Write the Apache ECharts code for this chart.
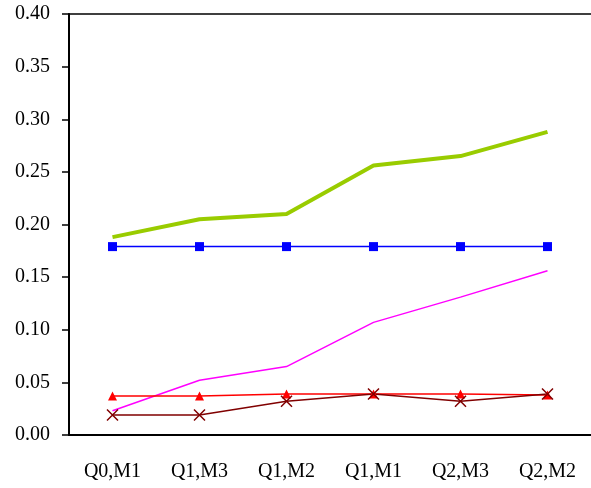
<!DOCTYPE html>
<html>
<head>
<meta charset="utf-8">
<script src="https://cdn.jsdelivr.net/npm/echarts@6/dist/echarts.min.js"></script>
<style>
html,body{margin:0;padding:0;background:#fff;}
#chart{width:591px;height:488px;}
</style>
</head>
<body>
<div id="chart"></div>
<script>
var categories = ['Q0,M1', 'Q1,M3', 'Q1,M2', 'Q1,M1', 'Q2,M3', 'Q2,M2'];
var greenVals = [0.188, 0.205, 0.210, 0.256, 0.265, 0.288];
var blueVals = [0.179, 0.179, 0.179, 0.179, 0.179, 0.179];
var magentaVals = [0.023, 0.052, 0.065, 0.107, 0.131, 0.156];
var redVals = [0.037, 0.037, 0.039, 0.039, 0.039, 0.038];
var darkRedVals = [0.019, 0.019, 0.032, 0.039, 0.032, 0.039];

var font = '"Liberation Serif", "Times New Roman", serif';
var myChart = echarts.init(document.getElementById('chart'));

option = {
	animation: false,
	backgroundColor: '#fff',
	grid: {
		left: 69,
		top: 14,
		right: -3,
		bottom: 53
	},
	xAxis: [
		{
			type: 'category',
			data: categories,
			boundaryGap: true,
			axisLine: { lineStyle: { color: '#000', width: 2 } },
			axisTick: { length: 7, lineStyle: { color: '#555', width: 1.5 } },
			axisLabel: { margin: 27, fontSize: 20, fontFamily: font, color: '#000' }
		},
		{
			// top frame line only
			type: 'category',
			data: categories,
			position: 'top',
			axisLine: { lineStyle: { color: '#000', width: 1.5 } },
			axisTick: { show: false },
			axisLabel: { show: false }
		}
	],
	yAxis: {
		type: 'value',
		min: 0,
		max: 0.4,
		interval: 0.05,
		splitLine: { show: false },
		axisLine: { show: true, lineStyle: { color: '#000', width: 2 } },
		axisTick: { show: true, length: 7, lineStyle: { color: '#000', width: 1.5 } },
		axisLabel: {
			margin: 19, fontSize: 20, fontFamily: font, color: '#000',
			formatter: function (v) { return v.toFixed(2); }
		}
	},
	series: [
		{
			type: 'line',
			data: greenVals,
			symbol: 'none',
			lineStyle: { color: '#99CC00', width: 4 }
		},
		{
			type: 'line',
			data: blueVals,
			symbol: 'rect',
			symbolSize: 9,
			itemStyle: { color: '#0000FF' },
			lineStyle: { color: '#0000FF', width: 1.5 }
		},
		{
			type: 'line',
			data: magentaVals,
			symbol: 'none',
			lineStyle: { color: '#FF00FF', width: 1.5 }
		},
		{
			type: 'line',
			data: redVals,
			symbol: 'triangle',
			symbolSize: 9,
			itemStyle: { color: '#FF0000' },
			lineStyle: { color: '#FF0000', width: 1.5 }
		},
		{
			type: 'line',
			data: darkRedVals,
			symbol: 'path://M0,0L10,10M10,0L0,10',
			symbolSize: 11,
			itemStyle: { color: '#800000', borderColor: '#800000', borderWidth: 1.5 },
			lineStyle: { color: '#800000', width: 1.5 }
		}
	]
};
myChart.setOption(option, true);
</script>
</body>
</html>
